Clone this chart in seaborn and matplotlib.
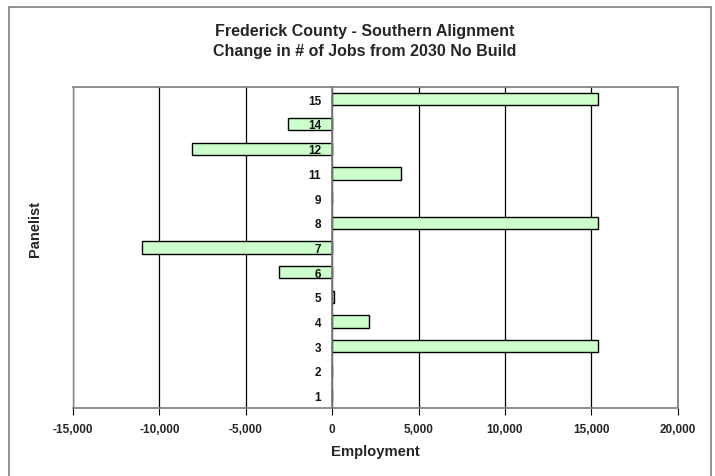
import matplotlib
matplotlib.use("Agg")
import matplotlib.pyplot as plt
import seaborn as sns
import pandas as pd
import numpy as np
from matplotlib.lines import Line2D

panelists = ["15", "14", "12", "11", "9", "8", "7", "6", "5", "4", "3", "2", "1"]
employment = [15400, -2550, -8100, 4000, 0, 15400, -11000, -3050, 100, 2150, 15400, 0, 0]
xticks = [-15000, -10000, -5000, 0, 5000, 10000, 15000, 20000]

sns.set_theme(style="white")
plt.rcParams['font.family'] = ['Liberation Sans', 'DejaVu Sans']

df = pd.DataFrame({"Panelist": panelists, "Employment": employment})

fig = plt.figure(figsize=(7.15, 4.77), dpi=100)
ax = fig.add_axes([0.102, 0.1426, 0.846, 0.673])

sns.barplot(data=df, x="Employment", y="Panelist", order=panelists, orient="h",
            color="#CCFFCC", edgecolor="black", linewidth=1.0, width=0.5,
            saturation=1, ax=ax, zorder=3)

ax.set_xlim(-15000, 20000)
ax.set_ylim(len(panelists) - 0.5, -0.5)
ax.set_xticks(xticks)
ax.set_xticklabels([f"{v:,}" for v in xticks], fontsize=8.5, fontweight="bold")
ax.xaxis.grid(True, color="black", linewidth=0.9, zorder=0)
ax.yaxis.grid(False)
ax.set_axisbelow(True)

# y axis at zero, drawn above the bars
ax.spines['left'].set_position(('data', 0))
ax.spines['left'].set_color("#808080")
ax.spines['left'].set_zorder(4)
ax.yaxis.set_zorder(5)
for s in ['top', 'right']:
    ax.spines[s].set_color("#808080")
ax.spines['bottom'].set_color("#808080")
ax.tick_params(axis='y', which='major', length=0, pad=8, labelsize=8.5, labelcolor="#111111")
for lab in ax.get_yticklabels():
    lab.set_fontweight("bold")
ax.set_yticks(np.arange(-0.5, len(panelists), 1), minor=True)
ax.tick_params(axis='y', which='minor', length=4, direction='out', color="black", width=0.8)
ax.tick_params(axis='x', which='major', length=5, direction='out', color="black",
               width=0.8, pad=6, bottom=True)
ax.add_line(Line2D([-15000, -15000], [-0.5, len(panelists) - 0.5], color="#808080",
                   linewidth=1.0, clip_on=False))

ax.set_xlabel("Employment", fontsize=10.7, fontweight="bold", labelpad=6)
ax.set_ylabel("")
fig.text(0.049, 0.52, "Panelist", rotation=90, fontsize=10.5, fontweight="bold",
         ha="center", va="center")

fig.text(0.51, 0.935, "Frederick County - Southern Alignment", fontsize=11.5,
         fontweight="bold", ha="center", va="center")
fig.text(0.51, 0.891, "Change in # of Jobs from 2030 No Build", fontsize=11.5,
         fontweight="bold", ha="center", va="center")

# figure border
border_kw = dict(color="#808080", linewidth=1.2, transform=fig.transFigure)
fig.add_artist(Line2D([0.013, 0.013], [0.0, 0.983], **border_kw))
fig.add_artist(Line2D([0.013, 0.995], [0.983, 0.983], **border_kw))
fig.add_artist(Line2D([0.995, 0.995], [0.0, 0.983], **border_kw))

fig.savefig("out.png", dpi=100)
